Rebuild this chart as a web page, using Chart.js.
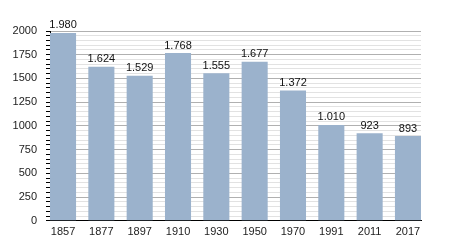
<!DOCTYPE html>
<html>
<head>
<meta charset="utf-8">
<script src="https://cdn.jsdelivr.net/npm/chart.js@4"></script>
<style>
  body { margin: 0; background: #fff; }
  #chart { display: block; }
</style>
</head>
<body>
<canvas id="chart" width="450" height="250"></canvas>
<script>
const years = ['1857', '1877', '1897', '1910', '1930', '1950', '1970', '1991', '2011', '2017'];
const population = [1980, 1624, 1529, 1768, 1555, 1677, 1372, 1010, 923, 893];
const yMin = 0;
const yMax = 2000;
const majorStep = 250;
const minorStep = 50;
const barShare = 0.68; // bar width relative to spacing, bars touch the plot edges

function formatDot(n) {
    // thousands separator as a dot, like the source
    return String(n).replace(/\B(?=(\d{3})+(?!\d))/g, '.');
}

const barLabels = {
    id: 'barLabels',
    afterDatasetsDraw(chart) {
        const ctx = chart.ctx;
        const meta = chart.getDatasetMeta(0);
        ctx.save();
        ctx.font = '11px "Liberation Sans", Arial, sans-serif';
        ctx.fillStyle = '#111';
        ctx.textAlign = 'center';
        ctx.textBaseline = 'bottom';
        meta.data.forEach((bar, i) => {
            ctx.fillText(formatDot(population[i]), bar.x, bar.y - 2);
        });
        ctx.restore();
    }
};

new Chart(document.getElementById('chart').getContext('2d'), {
    type: 'bar',
    data: {
        datasets: [{
            data: population.map((v, i) => ({ x: i, y: v })),
            backgroundColor: '#9bb2cc',
            borderWidth: 0,
            barPercentage: barShare,
            categoryPercentage: 1
        }]
    },
    options: {
        responsive: false,
        animation: false,
        layout: { padding: { top: 31, right: 29, bottom: 6, left: 0 } },
        plugins: { legend: { display: false }, tooltip: { enabled: false } },
        scales: {
            x: {
                type: 'linear',
                offset: false,
                min: -barShare / 2,
                max: years.length - 1 + barShare / 2,
                grid: { display: false, drawTicks: false, offset: false },
                border: { color: '#000', width: 1 },
                ticks: {
                    stepSize: 1,
                    includeBounds: false,
                    autoSkip: false,
                    maxRotation: 0,
                    color: '#222',
                    padding: 5,
                    font: { family: '"Liberation Sans", Arial, sans-serif', size: 11 },
                    callback: (v) => (Number.isInteger(v) ? years[v] : null)
                }
            },
            y: {
                min: yMin,
                max: yMax,
                afterFit(scale) { scale.width = 50; },
                border: { color: '#000', width: 1 },
                grid: {
                    tickLength: 4,
                    color: (c) => (c.tick && c.tick.value % majorStep === 0) ? '#b0b0b0' : '#e2e2e2',
                    tickColor: '#000'
                },
                ticks: {
                    stepSize: minorStep,
                    autoSkip: false,
                    color: '#222',
                    padding: 9,
                    font: { family: '"Liberation Sans", Arial, sans-serif', size: 11 },
                    callback: (v) => (v % majorStep === 0 ? String(v) : '')
                }
            }
        }
    },
    plugins: [barLabels]
});
</script>
</body>
</html>
